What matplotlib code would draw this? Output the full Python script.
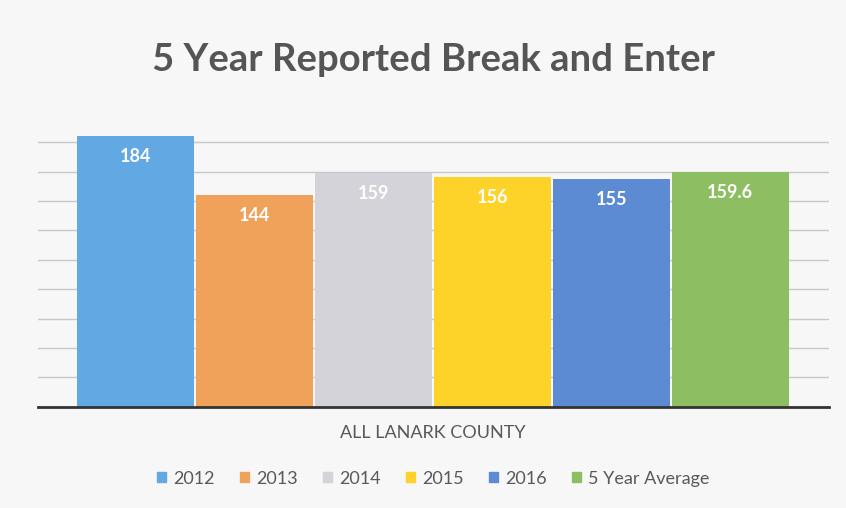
import matplotlib.pyplot as plt

# Reported break and enter, all Lanark County
years = ["2012", "2013", "2014", "2015", "2016", "5 Year Average"]
counts = [184, 144, 159, 156, 155, 159.6]
labels = ["184", "144", "159", "156", "155", "159.6"]
colors = ["#62a8e3", "#f0a15a", "#d3d3d9", "#fdd32a", "#5c8bd3", "#8dbf62"]
category = "ALL LANARK COUNTY"

plt.rcParams["font.family"] = ["Lato", "DejaVu Sans"]

fig = plt.figure(figsize=(8.46, 5.08), dpi=100)
fig.patch.set_facecolor("#f7f7f7")
ax = fig.add_axes([0.045, 0.199, 0.935, 0.579])
ax.set_facecolor("#f7f7f7")

x = range(len(years))
bars = ax.bar(x, counts, width=0.98, color=colors, label=years, zorder=2)

for b, txt in zip(bars, labels):
    ax.text(b.get_x() + b.get_width() / 2, b.get_height() - 8, txt,
            ha="center", va="top", color="white", fontsize=13, fontweight="bold", zorder=3)

ax.set_xlim(-0.82, 5.83)
ax.set_ylim(0, 200)
ax.set_yticks(range(20, 181, 20))
ax.yaxis.grid(True, color="#c8c8c8", lw=1, zorder=0)
ax.tick_params(left=False, labelleft=False, bottom=False, labelbottom=False)
for s in ["top", "right", "left"]:
    ax.spines[s].set_visible(False)
ax.spines["bottom"].set_color("#333333")
ax.spines["bottom"].set_linewidth(2)
ax.spines["bottom"].set_zorder(4)

fig.text(0.512, 0.882, "5 Year Reported Break and Enter", ha="center", va="center",
         fontsize=27.5, fontweight="bold", color="#555555")
fig.text(0.512, 0.148, category, ha="center", va="center", fontsize=13, color="#595959")

handles = [plt.Rectangle((0, 0), 1, 1, color=c) for c in colors]
fig.legend(handles, years, loc="center", bbox_to_anchor=(0.512, 0.058), ncol=6,
           frameon=False, fontsize=13, handlelength=0.5, handleheight=0.5,
           handletextpad=0.4, columnspacing=1.4, labelcolor="#595959")

fig.savefig("out.png", dpi=100, facecolor=fig.get_facecolor())
